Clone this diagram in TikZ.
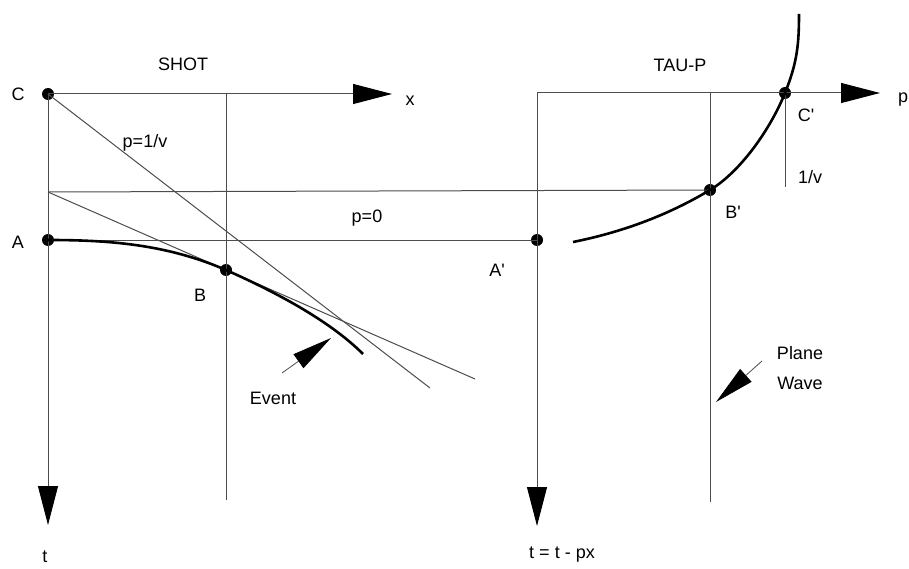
\documentclass[tikz,border=0pt]{standalone}
\usepackage{fontspec}
\setmainfont{Liberation Sans}[Ligatures=TeXOff]
\usetikzlibrary{arrows.meta}

\begin{document}
\begin{tikzpicture}[x=1pt,y=-1pt,
  dot/.style={circle,fill=black,inner sep=0pt,minimum size=12pt},
  lbl/.style={font=\fontsize{18}{30}\selectfont,inner sep=1pt,align=center},
  guide/.style={line width=1pt,black!70},
  axis/.style={guide,-{Triangle[length=39pt,width=20pt,black]}},
  wave/.style={line width=2.6pt},
  pointer/.style={line width=0.8pt,black!70,-{Triangle[length=40pt,width=17pt,black]}}
]
\useasboundingbox (0,0) rectangle (909,569);
% points on the event and in tau-p
\node[dot] (C) at (48,94) {};
\node[dot] (A) at (48,240) {};
\node[dot] (B) at (226,270) {};
\node[dot] (Ap) at (537,240) {};
\node[dot] (Bp) at (710,190) {};
\node[dot] (Cp) at (785,93) {};
\coordinate (xtip) at (392,94);
\coordinate (ttip) at (48,525);
\coordinate (D) at (48,192);
\coordinate (xB) at (226,94);
\coordinate (xBlow) at (226,500);
\coordinate (tautop) at (537,93);
\coordinate (tautip) at (537,526);
\coordinate (ptip) at (880,93);
\coordinate (Bptop) at (710,93);
\coordinate (Bplow) at (710,502);
\coordinate (Cplow) at (785,187);
\coordinate (ray1) at (430,388);
\coordinate (ray2) at (475,379);
\coordinate (evend) at (363,354);
\coordinate (tpstart) at (573,242);
\coordinate (tptop) at (799,14);
\coordinate (evtail) at (282,373);
\coordinate (evtip) at (331,338);
\coordinate (pwtail) at (762,361);
\coordinate (pwtip) at (716,402);
% shot domain
\draw[axis] (C.center) -- (xtip);
\draw[axis] (C.center) -- (ttip);
\draw[guide] (xB) -- (xBlow);
\draw[guide] (D) -- (Bp.center);
\draw[guide] (A.center) -- (Ap.center);
\draw[guide] (C.center) -- (ray1);
\draw[guide] (D) -- (ray2);
\draw[wave] (A.center) .. controls (108,240) and (166,244) .. (B.center)
  .. controls (271,290) and (328,319) .. (evend);
% tau-p domain
\draw[axis] (tautop) -- (tautip);
\draw[axis] (tautop) -- (ptip);
\draw[guide] (Bptop) -- (Bplow);
\draw[guide] (Cp.center) -- (Cplow);
\draw[wave] (tpstart) .. controls (618,233) and (665,217) .. (Bp.center)
  .. controls (740,172) and (770,130) .. (Cp.center)
  .. controls (797,63) and (799,45) .. (tptop);
\draw[pointer] (evtail) -- (evtip);
\draw[pointer] (pwtail) -- (pwtip);
% labels
\node[lbl] (shot) at (183,64) {SHOT};
\node[lbl] (taup) at (680,65) {TAU-P};
\node[lbl] (xlab) at (410,101) {x};
\node[lbl] (plab) at (903,100) {p};
\node[lbl] (Clab) at (18,94) {C};
\node[lbl] (Alab) at (18,242) {A};
\node[lbl] (Blab) at (200,295) {B};
\node[lbl] (Aplab) at (497,270) {A'};
\node[lbl] (Bplab) at (733,212) {B'};
\node[lbl] (Cplab) at (806,115) {C'};
\node[lbl] (vlab) at (810,177) {1/v};
\node[lbl] (p1v) at (145,143) {p=1/v};
\node[lbl] (p0) at (367,218) {p=0};
\node[lbl] (evlab) at (273,398) {Event};
\node[lbl] (pwlab) at (800,368) {Plane\\Wave};
\node[lbl] (tlab) at (45,557) {t};
\node[lbl] (taulab) at (562,555) {t = t - px};
\end{tikzpicture}
\end{document}
